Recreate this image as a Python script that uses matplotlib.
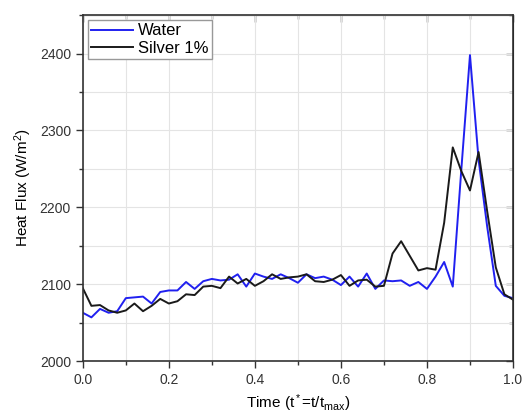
import matplotlib
matplotlib.use('Agg')
import matplotlib.pyplot as plt
import numpy as np
from matplotlib.ticker import MultipleLocator, FormatStrFormatter, NullFormatter

plt.rcParams['font.family'] = ['Liberation Sans', 'DejaVu Sans']
plt.rcParams['mathtext.fontset'] = 'custom'
plt.rcParams['mathtext.rm'] = 'Liberation Sans'
plt.rcParams['mathtext.it'] = 'Liberation Sans'

t = np.round(np.arange(0, 1.0001, 0.02), 2)
water = [2063, 2057, 2068, 2063, 2065, 2082, 2083, 2084, 2075, 2090,
         2092, 2092, 2103, 2094, 2104, 2107, 2105, 2106, 2113, 2097,
         2114, 2110, 2107, 2113, 2108, 2102, 2113, 2108, 2110, 2106,
         2099, 2110, 2097, 2114, 2094, 2105, 2104, 2105, 2098, 2103,
         2094, 2110, 2129, 2097, 2250, 2398, 2262, 2175, 2098, 2085,
         2082]
silver = [2095, 2072, 2073, 2066, 2063, 2066, 2075, 2065, 2072, 2081,
          2075, 2078, 2087, 2086, 2097, 2098, 2095, 2110, 2101, 2107,
          2098, 2104, 2113, 2107, 2109, 2110, 2113, 2104, 2103, 2106,
          2112, 2098, 2105, 2106, 2097, 2098, 2140, 2156, 2137, 2118,
          2121, 2119, 2180, 2278, 2247, 2222, 2272, 2195, 2122, 2087,
          2080]

fig = plt.figure(figsize=(5.24, 4.2), dpi=100)
ax = fig.add_axes([0.158, 0.14, 0.821, 0.824])

ax.plot(t, water, color='#2020f0', lw=1.4, label='Water')
ax.plot(t, silver, color='#1a1a1a', lw=1.4, label='Silver 1%')

ax.set_xlim(0, 1.0)
ax.set_ylim(2000, 2450)
ax.xaxis.set_major_locator(MultipleLocator(0.2))
ax.xaxis.set_minor_locator(MultipleLocator(0.1))
ax.yaxis.set_major_locator(MultipleLocator(100))
ax.yaxis.set_minor_locator(MultipleLocator(50))
ax.xaxis.set_major_formatter(FormatStrFormatter('%.1f'))

ax.grid(True, which='both', color='#e4e4e4', lw=0.8)
ax.set_axisbelow(True)
ax.tick_params(which='both', direction='out', labelsize=10,
               colors='#333333', width=1.0)
ax.tick_params(which='major', length=5)
ax.tick_params(which='minor', length=3)
for sp in ax.spines.values():
    sp.set_color('#333333')
    sp.set_linewidth(1.2)

# inward ticks on top and right, like Origin
top = ax.secondary_xaxis('top')
right = ax.secondary_yaxis('right')
for sec, axis in ((top, top.xaxis), (right, right.yaxis)):
    sec.tick_params(which='both', direction='in', colors='#333333', width=1.0)
    sec.tick_params(which='major', length=5)
    sec.tick_params(which='minor', length=3)
    axis.set_major_formatter(NullFormatter())
top.xaxis.set_major_locator(MultipleLocator(0.2))
top.xaxis.set_minor_locator(MultipleLocator(0.1))
right.yaxis.set_major_locator(MultipleLocator(100))
right.yaxis.set_minor_locator(MultipleLocator(50))

ax.set_xlabel('Time (t$^*$=t/t$_{max}$)', fontsize=11)
ax.set_ylabel('Heat Flux (W/m$^2$)', fontsize=11)

leg = ax.legend(loc='upper left', fontsize=12, fancybox=False,
                framealpha=1, edgecolor='#999999', borderpad=0.2,
                handlelength=2.5, handletextpad=0.3, labelspacing=0.15,
                borderaxespad=0.3)
leg.get_frame().set_linewidth(1.0)

fig.savefig('out.png', dpi=100)
